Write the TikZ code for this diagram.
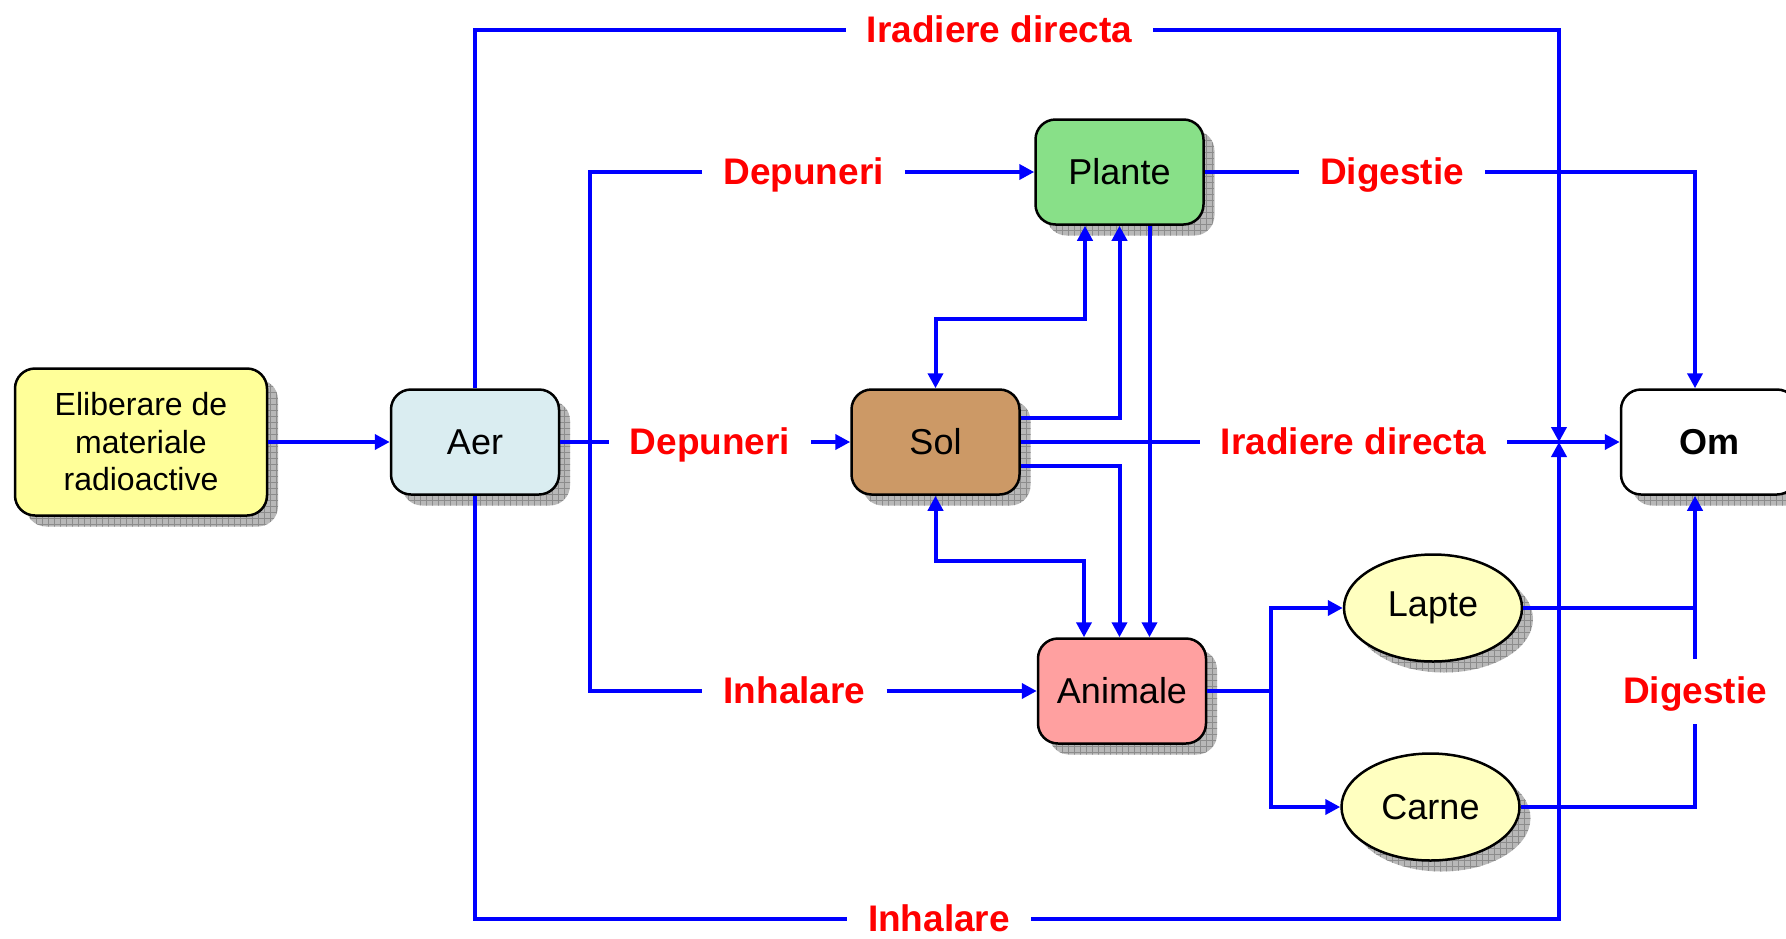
\documentclass[tikz,border=0pt]{standalone}
\usepackage{fontspec}
\setmainfont{Liberation Sans}
\usepackage{tikz}
\usetikzlibrary{arrows.meta,shapes.geometric,shadows,patterns.meta}

\definecolor{elibfill}{RGB}{255,255,153}
\definecolor{aerfill}{RGB}{218,237,241}
\definecolor{plantefill}{RGB}{136,224,136}
\definecolor{solfill}{RGB}{204,153,102}
\definecolor{animfill}{RGB}{255,160,160}
\definecolor{ovalfill}{RGB}{255,255,192}

\tikzset{
  shade/.style={drop shadow={shadow xshift=11pt,shadow yshift=-11pt,opacity=1,fill=black!28},
      drop shadow={shadow xshift=11pt,shadow yshift=-11pt,opacity=1,fill=black!28,
      pattern={Hatch[distance=6pt,line width=0.6pt]},pattern color=black!45}},
  box/.style={draw=black,line width=2.5pt,rounded corners=20pt,inner sep=0pt,
      minimum width=168pt,minimum height=105pt,font=\fontsize{36pt}{40pt}\selectfont,shade},
  oval/.style={ellipse,draw=black,line width=2.5pt,inner sep=0pt,fill=ovalfill,
      minimum width=178pt,minimum height=107pt,font=\fontsize{36pt}{40pt}\selectfont,shade},
  lbl/.style={text=red,font=\bfseries\fontsize{37pt}{40pt}\selectfont,
      inner xsep=21pt,inner ysep=0pt,text height=32pt,text depth=8pt},
  flow/.style={draw=blue,line width=4pt},
  >={Triangle[length=15pt,width=15pt]}
}

\begin{document}
\begin{tikzpicture}[x=1pt,y=1pt]
\useasboundingbox (0,0) rectangle (1786,-938);
\node[box,fill=elibfill,minimum width=252pt,minimum height=147pt,align=center,
  font=\fontsize{32pt}{37.5pt}\selectfont] (elib) at (141,-442) {Eliberare de\\materiale\\radioactive};
\node[box,fill=aerfill] (aer) at (475,-442) {Aer};
\node[box,fill=solfill] (sol) at (935.5,-442) {Sol};
\node[box,fill=plantefill] (plante) at (1119.5,-172) {Plante};
\node[box,fill=animfill] (anim) at (1122,-691) {Animale};
\node[box,fill=white,minimum width=176pt,font=\bfseries\fontsize{36pt}{40pt}\selectfont] (om) at (1709,-442) {Om};
\node[oval] (lapte) at (1433,-608) {Lapte};
\node[oval] (carne) at (1430.5,-807) {Carne};

\node[lbl] (irad1) at (999.5,-30) {Iradiere directa};
\node[lbl] (dep1) at (803.5,-172) {Depuneri};
\node[lbl] (dig1) at (1392,-172) {Digestie};
\node[lbl] (dep2) at (710,-442) {Depuneri};
\node[lbl] (irad2) at (1353.5,-442) {Iradiere directa};
\node[lbl] (inh1) at (794.5,-691) {Inhalare};
\node[lbl,text height=27pt,text depth=3pt] (inh2) at (939,-919) {Inhalare};
\node[lbl,inner ysep=12.5pt] (dig2) at (1695,-691.5) {Digestie};

\coordinate (hub) at (1559,-442);
\coordinate (split) at (590,-442);

\draw[flow,->] (elib) -- (aer);
\draw[flow] (aer.north) |- (irad1.west);
\draw[flow,->] (irad1.east) -| (hub);
\draw[flow] (aer.south) |- (inh2.west);
\draw[flow,->] (inh2.east) -| (hub);
\draw[flow] (aer.east) -- (dep2.west);
\draw[flow,->] (dep2.east) -- (sol.west);
\draw[flow] (dep1.west) -| (split) |- (inh1.west);
\draw[flow,->] (dep1.east) -- (plante.west);
\draw[flow,->] (inh1.east) -- (anim.west);
\draw[flow] (plante.east) -- (dig1.west);
\draw[flow,->] (dig1.east) -| (dig2.north |- om.north);
\draw[flow] (sol.east) -- (irad2.west);
\draw[flow,->] (irad2.east) -- (om.west);

\draw[flow,<->] (sol.north) -- ++(0,69) -| ([xshift=-34.5pt]plante.south);
\draw[flow,->] ([yshift=24pt]sol.east) -| (plante.south);
\draw[flow,->] ([yshift=-24pt]sol.east) -| (plante.south |- anim.north);
\draw[flow,<->] (sol.south) -- ++(0,-65) -| ([xshift=-35.5pt]plante.south |- anim.north);
\draw[flow,->] ([xshift=30pt]plante.south) -- ([xshift=30pt]plante.south |- anim.north);

\draw[flow] (anim.east) -- ++(64,0) coordinate (fork);
\draw[flow,->] (fork) |- (lapte.west);
\draw[flow,->] (fork) |- (carne.west);
\draw[flow] (lapte.east) -- (lapte.east -| dig2.north);
\draw[flow] (carne.east) -| (dig2.south);
\draw[flow,->] (dig2.north) -- (dig2.north |- om.south);
\end{tikzpicture}
\end{document}
